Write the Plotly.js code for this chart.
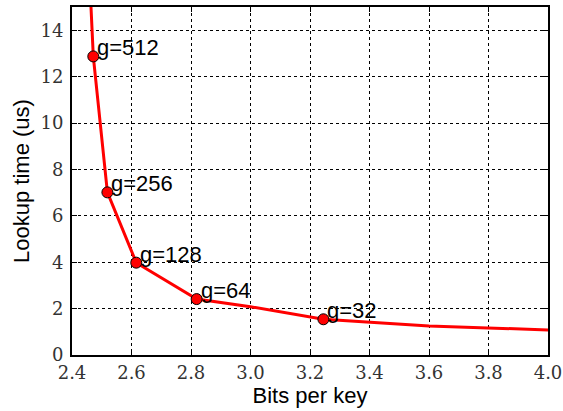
<!DOCTYPE html>
<html>
<head>
<meta charset="utf-8">
<script src="https://cdn.plot.ly/plotly-3.0.1.min.js"></script>
<style>html,body{margin:0;padding:0;background:#fff;}</style>
</head>
<body>
<div id="chart" style="width:563px;height:411px;"></div>
<script>
// curve
const curveBits = [2.462, 2.4716, 2.519, 2.616, 2.819, 3.0, 3.245, 3.6, 4.0];
const curveTime = [15.5, 12.87, 7.01, 3.98, 2.41, 2.08, 1.54, 1.25, 1.08];
// labelled points
const pointLabels = ["g=512", "g=256", "g=128", "g=64", "g=32"];
const pointBits = [2.4716, 2.519, 2.616, 2.819, 3.245];
const pointTime = [12.87, 7.01, 3.98, 2.41, 1.54];

const xTicks = [2.4, 2.6, 2.8, 3.0, 3.2, 3.4, 3.6, 3.8, 4.0];
const xTickText = ["2.4", "2.6", "2.8", "3.0", "3.2", "3.4", "3.6", "3.8", "4.0"];
const yTicks = [0, 2, 4, 6, 8, 10, 12, 14];

const traces = [
  {x: curveBits, y: curveTime, mode: 'lines', line: {color: '#ff0000', width: 3}, hoverinfo: 'skip'},
  {x: pointBits, y: pointTime, mode: 'markers',
   marker: {color: '#ff0000', size: 11, line: {color: '#000', width: 1}}}
];

const sans = 'Liberation Sans, Arial, sans-serif';
const serif = 'DejaVu Serif, serif';

const annotations = pointLabels.map((t, i) => ({
  x: pointBits[i], y: pointTime[i], text: t, showarrow: false,
  xanchor: 'left', yanchor: 'bottom', xshift: 2, yshift: -6,
  font: {family: sans, size: 22, color: '#000'}
}));

const axisCommon = {
  showline: true, linecolor: '#000', linewidth: 2, mirror: 'ticks',
  ticks: 'inside', ticklen: 5, tickcolor: '#000', tickwidth: 1,
  showgrid: true, gridcolor: '#000', gridwidth: 1, griddash: 'dot',
  zeroline: false
};

const layout = {
  width: 563, height: 411,
  margin: {l: 72, r: 15, t: 7, b: 56},
  paper_bgcolor: '#fff', plot_bgcolor: '#fff',
  showlegend: false,
  xaxis: Object.assign({}, axisCommon, {
    range: [2.4, 4.0], tickvals: xTicks, ticktext: xTickText,
    tickfont: {family: serif, size: 18, color: '#333'},
    ticklabelstandoff: 0,
    title: {text: 'Bits per key', standoff: 3,
      font: {family: sans, size: 22, color: '#000'}}
  }),
  yaxis: Object.assign({}, axisCommon, {
    range: [0, 15], tickvals: yTicks,
    tickfont: {family: serif, size: 18, color: '#333'},
    ticklabelstandoff: 3,
    title: {text: 'Lookup time (us)', standoff: 5,
      font: {family: sans, size: 22, color: '#000'}}
  }),
  annotations: annotations
};

Plotly.newPlot('chart', traces, layout, {displayModeBar: false, staticPlot: true});
</script>
</body>
</html>
